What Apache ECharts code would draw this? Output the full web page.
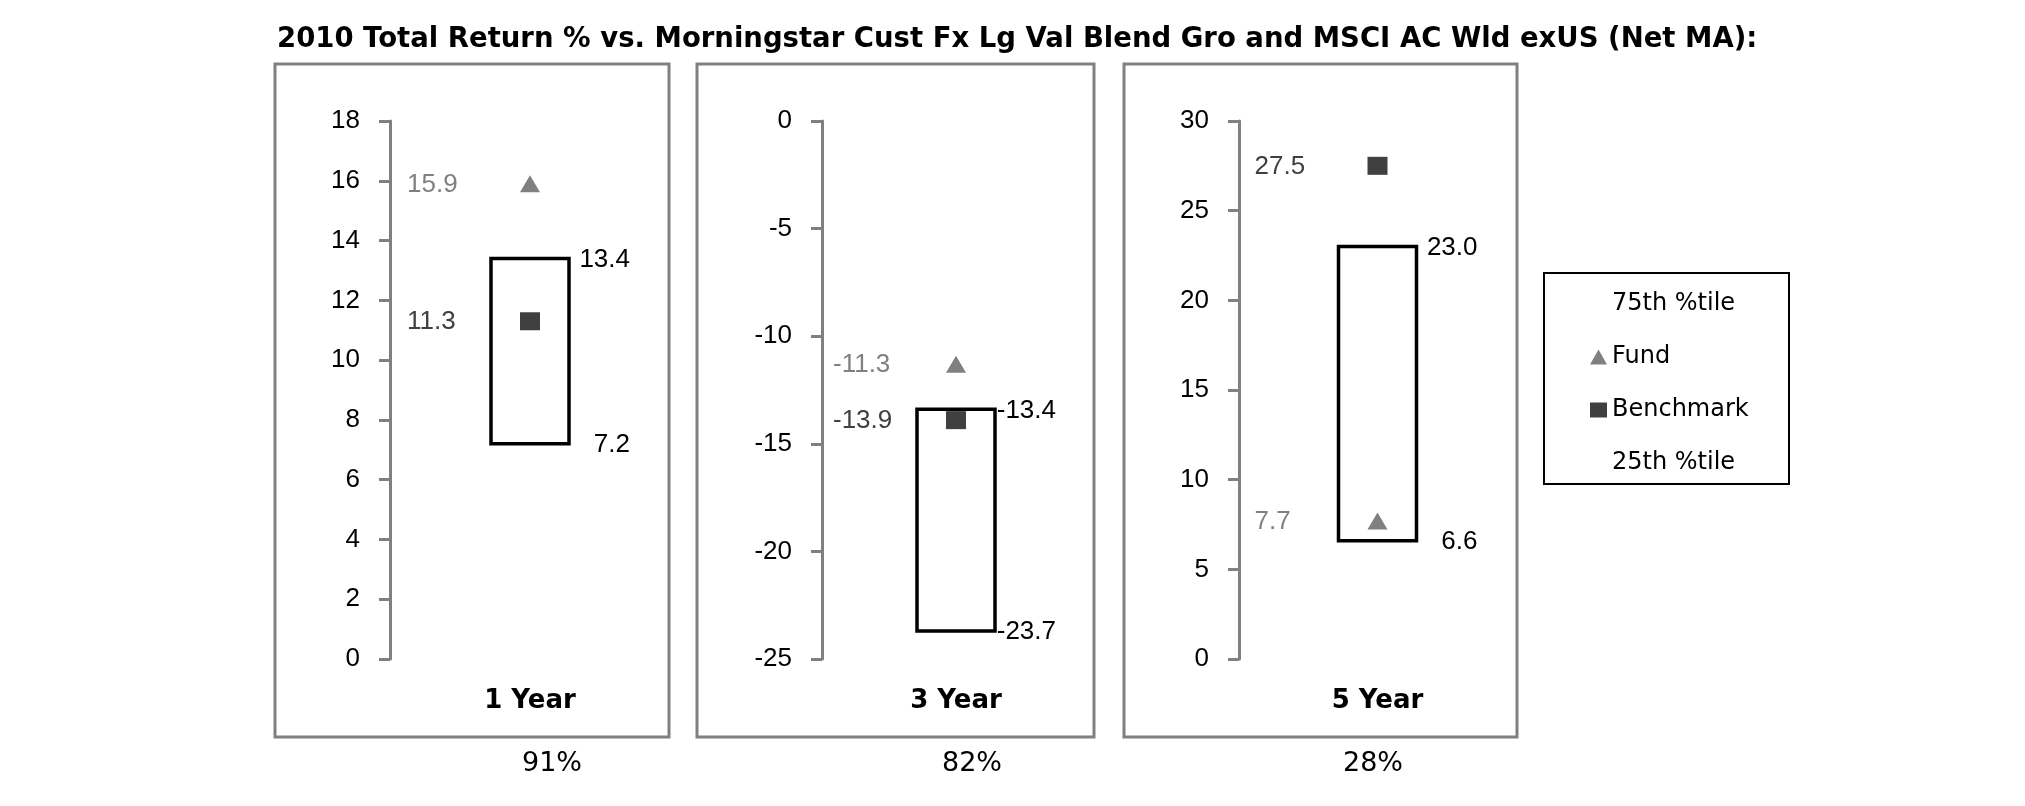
<!DOCTYPE html>
<html>
<head>
<meta charset="utf-8">
<script src="https://cdn.jsdelivr.net/npm/echarts@6/dist/echarts.min.js"></script>
<style>html,body{margin:0;padding:0;background:#fff}#c{width:2025px;height:806px}</style>
</head>
<body>
<div id="c"></div>
<script>
// ---- data ----
const titleText = '2010 Total Return % vs. Morningstar Cust Fx Lg Val Blend Gro and MSCI AC Wld exUS (Net MA):';
const categories = ['1 Year', '3 Year', '5 Year'];
const p75 = [13.4, -13.4, 23.0];
const p25 = [7.2, -23.7, 6.6];
const fund = [15.9, -11.3, 7.7];
const benchmark = [11.3, -13.9, 27.5];
const ranks = ['91%', '82%', '28%'];
const yMin = [0, -25, 0];
const yMax = [18, 0, 30];
const yInterval = [2, 5, 5];
const legendNames = ['75th %tile', 'Fund', 'Benchmark', '25th %tile'];

// ---- layout (px) ----
const gridLeft = [390, 822, 1239];
const gridWidth = [280, 268, 277];
const gridTop = 121, gridHeight = 538;
const frames = [[275, 669], [697, 1094], [1124, 1517]];
const frameTop = 64, frameBottom = 737;
const rankX = [552, 972, 1373];

const NUM_FONT = '"Liberation Sans", Arial, sans-serif';
const VER_FONT = '"DejaVu Sans", Verdana, sans-serif';
const FUND_C = '#808080', BENCH_C = '#404040';

const chart = echarts.init(document.getElementById('c'), null, {renderer: 'canvas'});

const grids = [], xAxes = [], yAxes = [], series = [];
const fmt = v => Number(v).toFixed(1);
for (let i = 0; i < 3; i++) {
  grids.push({left: gridLeft[i], width: gridWidth[i], top: gridTop, height: gridHeight});
  xAxes.push({
    type: 'category', gridIndex: i, data: [categories[i]],
    axisLine: {show: false}, axisTick: {show: false}, splitLine: {show: false},
    axisLabel: {margin: 29, color: '#000', fontFamily: VER_FONT, fontWeight: 'bold', fontSize: 26}
  });
  yAxes.push({
    type: 'value', gridIndex: i, min: yMin[i], max: yMax[i], interval: yInterval[i],
    axisLine: {show: true, lineStyle: {color: '#808080', width: 3}},
    axisTick: {show: true, length: 11, lineStyle: {color: '#808080', width: 3}},
    splitLine: {show: false},
    axisLabel: {margin: 30, color: '#000', fontFamily: NUM_FONT, fontSize: 26}
  });
  series.push({
    name: '75th %tile', type: 'custom', xAxisIndex: i, yAxisIndex: i, z: 2,
    itemStyle: {color: '#000'},
    data: [[0, p25[i], p75[i]]],
    renderItem: (params, api) => {
      const lo = api.coord([api.value(0), api.value(1)]);
      const hi = api.coord([api.value(0), api.value(2)]);
      const w = 78;
      return {type: 'group', children: [
        {type: 'rect', shape: {x: lo[0] - w / 2, y: hi[1], width: w, height: lo[1] - hi[1]},
         style: {fill: '#fff', stroke: '#000', lineWidth: 3.5}},
        {type: 'text', x: lo[0] + w / 2 + 61, y: hi[1] + 1,
         style: {text: fmt(api.value(2)), textAlign: 'right', textVerticalAlign: 'middle',
                 font: '26px ' + NUM_FONT, fill: '#000'}}
      ]};
    }
  });
  series.push({
    name: '25th %tile', type: 'custom', xAxisIndex: i, yAxisIndex: i, z: 3,
    itemStyle: {color: '#000'},
    data: [[0, p25[i]]],
    renderItem: (params, api) => {
      const lo = api.coord([api.value(0), api.value(1)]);
      const w = 78;
      return {type: 'text', x: lo[0] + w / 2 + 61, y: lo[1] + 1,
        style: {text: fmt(api.value(1)), textAlign: 'right', textVerticalAlign: 'middle',
                font: '26px ' + NUM_FONT, fill: '#000'}};
    }
  });
  const ptLabel = color => ({
    show: true, position: 'inside', offset: [-123, 1], align: 'left', verticalAlign: 'middle',
    fontFamily: NUM_FONT, fontSize: 26, color: color,
    formatter: p => fmt(p.value[1])
  });
  series.push({
    name: 'Fund', type: 'scatter', xAxisIndex: i, yAxisIndex: i, z: 5,
    symbol: 'triangle', symbolSize: [20, 17], itemStyle: {color: FUND_C, opacity: 1},
    data: [[0, fund[i]]], label: ptLabel(FUND_C)
  });
  series.push({
    name: 'Benchmark', type: 'scatter', xAxisIndex: i, yAxisIndex: i, z: 5,
    symbol: 'rect', symbolSize: [20, 18], itemStyle: {color: BENCH_C, opacity: 1},
    data: [[0, benchmark[i]]], label: ptLabel(BENCH_C)
  });
}

const graphics = [];
frames.forEach(f => graphics.push({
  type: 'rect', z: -1, shape: {x: f[0], y: frameTop, width: f[1] - f[0], height: frameBottom - frameTop},
  style: {fill: 'none', stroke: '#808080', lineWidth: 3}
}));
graphics.push({type: 'rect', z: -1, shape: {x: 1544, y: 273, width: 245, height: 211},
  style: {fill: '#fff', stroke: '#000', lineWidth: 2}});
ranks.forEach((r, i) => graphics.push({
  type: 'text', x: rankX[i], y: 764,
  style: {text: r, textAlign: 'center', textVerticalAlign: 'middle', font: '27px ' + VER_FONT, fill: '#000'}
}));

chart.setOption({
  animation: false,
  backgroundColor: '#fff',
  title: {text: titleText, left: 272, top: 21,
    textStyle: {fontFamily: VER_FONT, fontWeight: 'bold', fontSize: 27.5, color: '#000'}},
  legend: {
    orient: 'vertical', left: 1585, top: 287, itemWidth: 17, itemHeight: 15, itemGap: 29,
    selectedMode: false,
    textStyle: {fontFamily: VER_FONT, fontSize: 24, color: '#000', lineHeight: 24},
    data: [
      {name: legendNames[0], icon: 'rect', itemStyle: {opacity: 0}},
      {name: legendNames[1], icon: 'triangle'},
      {name: legendNames[2], icon: 'rect'},
      {name: legendNames[3], icon: 'rect', itemStyle: {opacity: 0}}
    ]
  },
  grid: grids, xAxis: xAxes, yAxis: yAxes, series: series,
  graphic: graphics
});
</script>
</body>
</html>
